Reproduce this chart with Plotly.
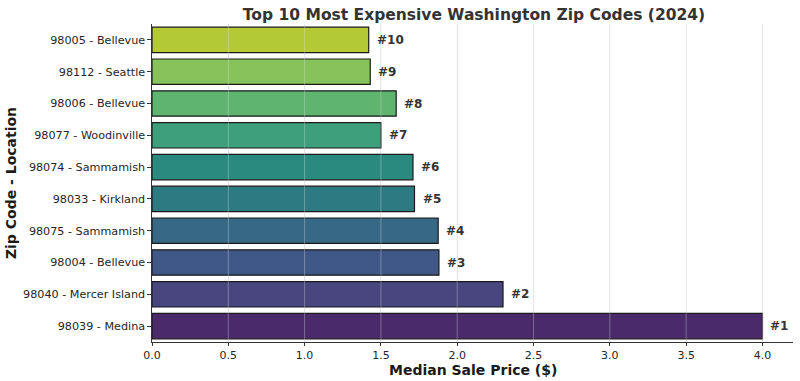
import plotly.graph_objects as go

locations = ["98039 - Medina", "98040 - Mercer Island", "98004 - Bellevue", "98075 - Sammamish",
             "98033 - Kirkland", "98074 - Sammamish", "98077 - Woodinville", "98006 - Bellevue",
             "98112 - Seattle", "98005 - Bellevue"]
prices = [4.00, 2.30, 1.88, 1.875, 1.72, 1.71, 1.50, 1.60, 1.43, 1.42]
ranks = ["#1", "#2", "#3", "#4", "#5", "#6", "#7", "#8", "#9", "#10"]
colors = ["#4a2a6a", "#48457f", "#3f5888", "#376886", "#2e7a82",
          "#2b8a80", "#3d9f7c", "#5fb56f", "#87c35a", "#b3c935"]
x_ticks = [0.0, 0.5, 1.0, 1.5, 2.0, 2.5, 3.0, 3.5, 4.0]

font_family = "DejaVu Sans"
fig = go.Figure()
fig.add_trace(go.Bar(
    x=prices, y=locations, orientation="h",
    marker=dict(color=colors, line=dict(color="#1a1a1a", width=1.2)),
    width=0.8, showlegend=False, hoverinfo="skip",
))
for loc, p, r in zip(locations, prices, ranks):
    fig.add_annotation(x=p, y=loc, text="<b>%s</b>" % r, showarrow=False,
                       xanchor="left", xshift=6, font=dict(family=font_family, size=12, color="#333333"))
# faint gridlines drawn over the bars
for t in x_ticks[1:]:
    fig.add_shape(type="line", x0=t, x1=t, y0=0, y1=1, xref="x", yref="paper",
                  line=dict(color="rgba(225,225,230,0.35)", width=1), layer="above")
# x-axis title
fig.add_annotation(x=0.5, y=-0.088, xref="paper", yref="paper", showarrow=False,
                   text="<b>Median Sale Price ($)</b>", xanchor="center", yanchor="middle",
                   font=dict(family=font_family, size=14, color="#1a1a1a"))

fig.update_layout(
    width=800, height=381,
    margin=dict(l=152, r=7, t=24, b=39, autoexpand=False),
    paper_bgcolor="white", plot_bgcolor="white",
    font=dict(family=font_family, size=12, color="#262626"),
    title=dict(text="<b>Top 10 Most Expensive Washington Zip Codes (2024)</b>",
               x=0.5925, xanchor="center", y=0.963, yanchor="middle",
               font=dict(family=font_family, size=15.5, color="#333333")),
    bargap=0.2,
)
fig.update_xaxes(
    range=[0, 4.2], tickvals=x_ticks, ticktext=["%.1f" % v for v in x_ticks],
    showgrid=True, gridcolor="#e8e8ee", gridwidth=1,
    showline=True, linecolor="#333333", linewidth=1.2,
    ticks="outside", ticklen=3, tickcolor="#333333",
    tickfont=dict(size=11, color="#262626"),
    zeroline=False, automargin=False,
)
fig.update_yaxes(
    categoryorder="array", categoryarray=locations, range=[-0.5, 9.5],
    showline=True, linecolor="#333333", linewidth=1.2,
    ticks="outside", ticklen=3.5, tickcolor="#333333",
    tickfont=dict(size=11.2, color="#262626"),
    title=dict(text="<b>Zip Code - Location</b>", font=dict(size=14, color="#1a1a1a"), standoff=3),
    showgrid=False, automargin=False,
)
fig.write_html("out.html", config={"displayModeBar": False},
               post_script="document.body.style.margin='0';")
